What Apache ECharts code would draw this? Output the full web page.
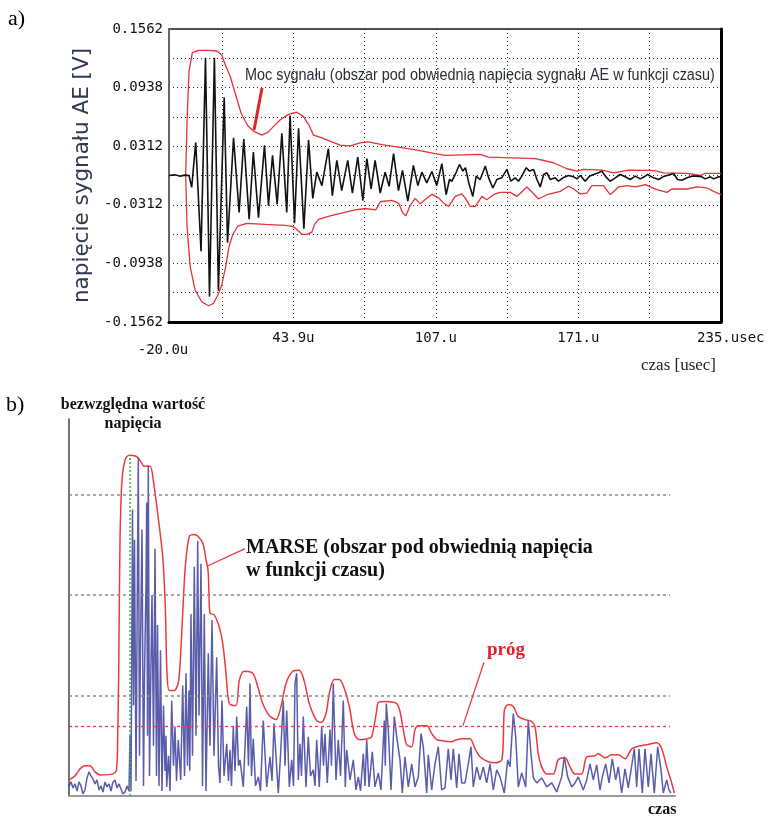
<!DOCTYPE html>
<html>
<head>
<meta charset="utf-8">
<script src="https://cdn.jsdelivr.net/npm/echarts@6/dist/echarts.min.js"></script>
<style>
html, body { margin: 0; padding: 0; background: #fff; }
#chart { width: 768px; height: 818px; }
</style>
</head>
<body>
<div id="chart"></div>
<script>
// ---------- a) AE signal voltage vs time ----------
// time in microseconds, voltage in volts
const sigTime = [-12, -9.3, -7.0, -4.8, -3.0, -1.8, 0.0, 2.4, 4.4, 6.2, 8.4, 10.2, 12.8, 14.3, 17.0, 19.5, 21.6, 24.0, 25.9, 28.2,
  30.9, 32.7, 34.5, 36.6, 38.7, 40.9, 42.4, 44.4, 46.2, 48.6, 50.7, 52.6, 54.4, 56.7, 59.6, 61.4, 63.4, 65.6, 68.3, 70.4,
  72.8, 75.1, 76.9, 78.8, 80.6, 82.9, 85.1, 86.9, 88.9, 91.1, 92.9, 95.3, 97.8, 99.8, 101.6, 103.8, 106.1, 108.3, 110.6,
  112.5, 114.0, 115.1, 116.6, 118.5, 120.0, 121.2, 122.7, 124.5, 126.0, 127.8, 130.1, 131.6, 133.5, 135.3, 137.5, 139.8,
  141.6, 143.5, 145.0, 146.5, 148.5, 150.0, 151.8, 153.3, 154.8, 156.3, 157.8, 159.3, 161.5, 163.0, 165.0, 167.5, 169.8,
  171.3, 172.8, 175.0, 176.9, 178.7, 181.0, 182.5, 184.0, 186.2, 188.5, 190.7, 193.0, 195.2, 197.5, 199.7, 201.5, 203.0,
  205.7, 208.0, 209.9, 211.7, 214.7, 216.5, 218.4, 220.7, 222.9, 225.2, 227.4, 228.9, 231.2, 232.7, 234.9, 236];
const sigVolt = [0, 0.0007, -0.0007, 0.0004, 0, -0.0126, 0.0352, -0.0808, 0.1257, -0.1292, 0.1257, -0.1228, 0.0833, -0.0718,
  0.0402, -0.0395, 0.0388, -0.0467, 0.0251, -0.0449, 0.0323, -0.0323, 0.0215, -0.0305, 0.0449, -0.0395, 0.0639, -0.0510,
  0.0503, -0.0567, 0.0377, -0.0244, 0.0036, -0.0108, 0.0287, -0.0215, 0.0162, -0.0162, 0.0162, -0.0187, 0.0197, -0.0269,
  0.0180, -0.0144, 0.0162, -0.0187, 0.0036, -0.0115, 0.0233, -0.0162, 0.0054, -0.0273, 0.0108, -0.0108, 0.0036, -0.0079,
  0.0043, -0.0108, 0.0126,
  -0.0205, -0.0043, -0.0061, 0.0011, 0.0118, 0.0047, 0.0083, -0.0079, -0.0223, -0.0007, -0.0043, 0.0101, -0.0025, -0.0133,
  -0.0043, -0.0025, 0.0065, -0.0061, -0.0025, -0.0061, -0.0007, 0.0083, 0.0047, 0.0065, -0.0043, -0.0122, 0.0011, 0.0029,
  -0.0043, -0.0025, -0.0061, -0.0025, 0, -0.0014, -0.0036, 0, -0.0061, -0.0007, 0.0011, 0.0029, 0.0047, -0.0007, -0.0061,
  -0.0025, 0.0011, -0.0014, -0.0043, -0.0007, -0.0036, -0.0014, 0.0011, -0.0025, -0.0043, -0.0014, 0, 0.0022, -0.0043,
  -0.0050, -0.0025, -0.0007, -0.0007, -0.0014, -0.0036, -0.0014, -0.0036, -0.0014, -0.0014];

// upper and lower voltage envelope
const envUpTime = [-4.5, -3.9, -3.0, -1.5, 1.2, 5.7, 9.5, 11.7, 13.5, 15.5, 17.7, 20.4, 23.4, 25.9, 29.7, 32.4, 34.9, 37.9,
  41.7, 45.4, 48.4, 51.0, 52.9, 56.7, 61.1, 64.9, 69.4, 73.9, 77.6, 83.6, 91.1, 100.1, 107.6, 112.1, 127.8, 131.6, 152.5,
  160.8, 166.8, 171.3, 174.2, 182.5, 187.7, 194.5, 204.2, 207.2, 210.2, 220.7, 226.7, 228.9, 236];
const envUpVolt = [0, 0.0574, 0.1113, 0.1310, 0.1335, 0.1335, 0.1328, 0.1285, 0.1167, 0.1059, 0.0880, 0.0664, 0.0531,
  0.0474, 0.0431, 0.0460, 0.0521, 0.0592, 0.0653, 0.0675, 0.0628, 0.0531, 0.0431, 0.0402, 0.0359, 0.0323, 0.0316, 0.0348,
  0.0359, 0.0330, 0.0302, 0.0269, 0.0233, 0.0215, 0.0226, 0.0197, 0.0180, 0.0136, 0.0072, 0.0047, 0.0065, 0.0057, 0.0029,
  0.0057, 0.0054, 0.0047, 0.0029, 0.0022, 0, 0.0022, 0.0022];
const envLoTime = [-4.5, -3.9, -2.5, -0.3, 2.7, 5.7, 8.0, 10.2, 11.7, 13.5, 15.0, 16.7, 18.9, 22.9, 31.2, 40.2, 43.9, 45.7,
  47.7, 49.9, 52.2, 53.4, 55.2, 60.4, 66.4, 71.6, 76.1, 80.9, 82.9, 88.1, 91.1, 92.9, 94.4, 96.3, 98.6, 100.8, 103.4, 106.1,
  109.4, 111.3, 113.6, 116.6, 119.6, 121.1, 123.3, 125.6, 128.6, 130.8, 133.8, 136.8, 141.3, 144.3, 148.8, 151.8, 154.0,
  157.8, 163.8, 167.5, 169.8, 172.8, 175.7, 178.0, 183.2, 186.2, 190.0, 193.7, 197.5, 202.0, 207.2, 211.7, 213.9, 220.7,
  225.2, 229.7, 232.7, 236];
const envLoVolt = [0, -0.0539, -0.0969, -0.1221, -0.1346, -0.1389, -0.1364, -0.1264, -0.1167, -0.0969, -0.0754, -0.0628,
  -0.0539, -0.0510, -0.0521, -0.0531, -0.0546, -0.0582, -0.0628, -0.0628, -0.0603, -0.0521, -0.0467, -0.0431, -0.0395,
  -0.0366, -0.0352, -0.0366, -0.0280, -0.0266, -0.0294, -0.0395, -0.0431, -0.0323, -0.0244, -0.0302, -0.0251, -0.0201,
  -0.0244, -0.0294, -0.0330, -0.0223, -0.0197, -0.0241, -0.0330, -0.0330, -0.0223, -0.0258, -0.0205, -0.0180, -0.0180,
  -0.0223, -0.0122, -0.0194, -0.0251, -0.0205, -0.0169, -0.0115, -0.0144, -0.0197, -0.0187, -0.0108, -0.0108, -0.0205,
  -0.0122, -0.0108, -0.0122, -0.0097, -0.0151, -0.0180, -0.0144, -0.0144, -0.0122, -0.0133, -0.0169, -0.0205];

// axis ticks of panel a
const timeGridValues = [11.9, 43.9, 75.9, 107.9, 139.9, 171.9, 203.9];
const timeLabelValues = [-12, 43.9, 107.9, 171.9, 235.9];
const timeLabels = ['-20.0u', '43.9u', '107.u', '171.u', '235.usec'];
const voltLabelValues = [-0.15625, -0.09375, -0.03125, 0.03125, 0.09375, 0.15625];
const voltLabels = ['-0.1562', '-0.0938', '-0.0312', '0.0312', '0.0938', '0.1562'];
// leader of the "Moc sygnału" note: [time, volt] endpoints
const powerLeader = [[29.8, 0.0933], [26.2, 0.0485]];

// ---------- b) absolute voltage (MARSE) ----------
// [time (arbitrary units), |U| (grid units)]
const absVoltage = [[0,0.10],[2,0.14],[4,0.08],[6,0.12],[8,0.05],[10,0.14],[12,0.10],[14,0.02],[16,0.06],[18,0.18],[20,0.24],
  [22,0.20],[24,0.17],[26,0.12],[28,0.16],[30,0.06],[32,0.10],[34,0.04],[36,0.14],[38,0.09],[40,0.12],[42,0.05],[44,0.14],
  [46,0.16],[48,0.08],[50,0.12],[52,0.07],[54,0.02],[56,0.04],[58,0.10],[60,0.05],
  [61,0.60],[62,0.05],[63.5,2.85],[64.5,0.90],[65.5,2.55],[67,0.15],[68.5,2.30],[69.3,3.37],[70.5,0.40],[71.5,1.50],[73,2.65],
  [74.5,0.10],[75.5,1.20],[77,2.10],[77.7,2.92],[78.5,0.60],[79.3,3.29],[80.5,0.20],[81.5,1.00],[83,2.00],[84.5,0.50],[86,2.46],
  [87.5,0.20],[88.5,1.70],[90,0.10],[91.5,1.45],[93,0.05],[94.5,0.90],[96,0.25],[97,0.60],[97.7,0.09],[99.5,0.40],[101,0.05],
  [102.7,0.95],[104.5,0.30],[106,0.69],[107.5,0.15],[109.3,0.56],[111.7,0.16],[113.7,1.10],[115.5,0.20],[117,1.22],[118.5,0.30],
  [120,1.05],[120.8,0.25],[122,1.81],[123.5,0.40],[125.3,2.28],[127,0.60],[128.7,2.54],[130,0.80],[132,2.31],[133.5,0.10],
  [135.3,1.81],[137,0.05],[139.3,1.42],[141,0.50],[143,1.75],[145,0.40],[147.7,1.38],[149.5,0.30],[151,0.13],[153,0.95],[155,0.20],
  [157.7,0.52],[159.5,0.15],[161,0.46],[162.5,0.10],[164.3,0.69],[166,0.25],[167.7,0.79],[169.5,0.30],[171,0.36],[174.3,0.09],
  [177.7,0.89],[179.5,0.30],[181,1.12],[182.5,0.20],[184.3,0.57],[186.5,0.10],[189.3,0.19],[191.5,0.05],[194.3,0.75],[197.7,0.09],
  [201,0.39],[203,0.15],[205,0.72],[209.3,0.03],[211.5,0.40],[214.3,0.95],[216,0.30],[217.7,0.85],[220.3,0.09],[222.7,0.36],
  [224.5,0.10],[226,1.12],[227.7,1.22],[229.3,0.16],[231,0.52],[232.5,0.20],[234.3,0.79],[237,0.09],[239.3,0.59],[241.5,0.20],
  [244.3,0.26],[246,0.10],[247.7,0.56],[250.3,0.09],[252.7,0.69],[254.5,0.30],[256,0.62],[258.3,0.13],[261,0.66],[262.5,0.30],
  [264.3,1.12],[267,0.16],[269.3,0.56],[271.5,0.20],[274.3,0.95],[276.3,0.09],[277.7,0.46],[281,0.16],[284.3,0.36],[287,0.06],
  [289.3,0.19],[291.5,0.05],[294.3,0.42],[296,0.10],
  [297.7,0.56],[300,0.09],[303.3,0.44],[306,0.09],[309.3,0.23],[312,0.06],[315.3,0.75],[316.3,0.30],[317.3,0.92],[319.3,0.66],
  [322,0.06],[325.3,0.79],[327.7,0.59],[331,0.36],[333.3,0.03],[336,0.39],[339.3,0.09],[342.7,0.32],[346,0.09],[349.3,0.19],
  [352,0.62],[354.3,0.49],[357.7,0.03],[359.3,0.41],[362.7,0.06],[366,0.32],[369.3,0.49],[372.7,0.06],[376,0.08],[379.3,0.47],
  [382,0.16],[384.3,0.47],[387.7,0.08],[390,0.42],[392.7,0.13],[396,0.13],[399.3,0.32],[402,0.49],[404.3,0.09],[407.7,0.29],
  [411,0.16],[414.3,0.29],[417.7,0.13],[421,0.32],[424.3,0.06],[427.7,0.26],[431,0.19],[435.3,0.03],[438.7,0.36],[441,0.29],
  [444.3,0.82],[446.7,0.59],[449.3,0.09],[452.7,0.23],[456.7,0.09],[459.3,0.75],[462,0.42],[464.3,0.18],[467.7,0.13],
  [472.7,0.18],[477.7,0.09],[482.7,0.13],[487.7,0.04],[492.7,0.19],[495.3,0.39],[498.7,0.19],[502.7,0.09],[506,0.13],
  [509.3,0.19],[514.3,0.06],[517.7,0.16],[521,0.32],[524.3,0.16],[527.7,0.31],[531,0.06],[533.3,0.19],[536.7,0.32],[540,0.13],
  [543.3,0.37],[546.7,0.16],[549.3,0.29],[552.7,0.03],[556,0.27],[559.3,0.08],[565.3,0.47],[567.7,0.09],[570,0.47],[573.3,0.03],
  [576,0.47],[579.3,0.09],[582,0.42],[585.3,0.03],[588.7,0.49],[592,0.26],[594.3,0.03],[597.7,0.16],[600,0.06],[602,0.03]];

const marseEnvelope = [[0,0.16],[6,0.20],[11,0.27],[16,0.30],[21,0.30],[26,0.24],[31,0.21],[44,0.22],[47.5,0.26],[48.7,0.60],
  [49.7,1.22],[51,2.54],[53,3.14],[56.3,3.35],[60.3,3.39],[67,3.38],[71,3.34],[75.3,3.28],[81,3.28],[84.3,3.14],[88.7,2.81],
  [93.7,2.38],[96.3,1.88],[98,1.22],[100.3,1.05],[105.3,1.05],[109.7,1.15],[113,1.68],[116.3,2.28],[120.3,2.58],[125.3,2.60],
  [130.3,2.57],[134.3,2.50],[137,2.35],[139,2.25],[140,2.0],[141,1.82],[145.3,1.80],[150.3,1.68],[153.7,1.52],[157,1.22],
  [160.3,0.92],[167,0.90],[170.3,1.15],[175.3,1.24],[183.7,1.22],[188.7,1.09],[193.7,0.92],[200.3,0.80],[207,0.76],[212,0.89],
  [217,1.12],[223.7,1.24],[230.3,1.25],[235.3,1.14],[240.3,0.92],[247,0.76],[252,0.73],[257,0.82],[260.3,1.02],[265.3,1.16],
  [270.3,1.16],[275.3,1.07],[280.3,0.89],[285.3,0.62],[290.3,0.56],[298.7,0.57],[302.7,0.59],[307.7,0.85],[309.3,0.93],
  [316,0.94],[327.7,0.92],[331,0.84],[334.3,0.66],[337.7,0.51],[342.7,0.49],[346,0.66],[349.3,0.70],[357.7,0.70],[362.7,0.62],
  [367.7,0.56],[372.7,0.55],[382.7,0.54],[387.7,0.56],[394.3,0.57],[401,0.57],[406,0.47],[411,0.39],[419.3,0.34],[426,0.33],
  [432.7,0.36],[434.3,0.56],[435.3,0.85],[439.3,0.91],[444.3,0.89],[449.3,0.79],[456,0.76],[462.7,0.74],[466,0.69],[469.3,0.42],
  [472.7,0.29],[477.7,0.22],[484.3,0.22],[489.3,0.36],[496,0.38],[501,0.29],[506,0.22],[512.7,0.22],[517.7,0.39],[526,0.40],
  [529.3,0.42],[536,0.38],[542.7,0.41],[549.3,0.41],[556,0.37],[562.7,0.47],[567.7,0.49],[577.7,0.51],[587.7,0.53],
  [592.7,0.47],[597.7,0.29],[602.7,0.13],[605.3,0.03]];

const bGridLevels = [1, 2, 3];
const bGridEnd = 601;
const thresholdLevel = 0.69;
const triggerTime = 61;
const triggerTop = 3.39;
const marseLeader = [[176, 2.46], [139, 2.29]];
const thresholdLeader = [[415, 1.33], [394, 0.70]];

const zip = (xs, ys) => xs.map((x, i) => [x, ys[i]]);
const pick = (vals, labels, v) => {
  const i = vals.findIndex(t => Math.abs(t - v) < 1e-6);
  return i < 0 ? '' : labels[i];
};

const monoFont = 'DejaVu Sans Mono';
const red = '#e53238';

const chart = echarts.init(document.getElementById('chart'), null, { renderer: 'canvas' });

const guideLines = [];
bGridLevels.forEach(l => guideLines.push([
  { coord: [0, l], lineStyle: { color: '#8a8a8a', type: [3, 3], width: 1.5 } },
  { coord: [bGridEnd, l] }
]));
guideLines.push([
  { coord: [0, thresholdLevel], lineStyle: { color: '#ee3b3b', type: [3, 3], width: 1.3 } },
  { coord: [bGridEnd, thresholdLevel] }
]);
guideLines.push([
  { coord: [triggerTime, 0], lineStyle: { color: '#3cb043', type: [2, 2], width: 1.5 } },
  { coord: [triggerTime, triggerTop] }
]);

chart.setOption({
  animation: false,
  grid: [
    { left: 169, top: 29, width: 552, height: 293, show: true, borderColor: '#555', borderWidth: 2 },
    { left: 69, top: 419, width: 606, height: 377 }
  ],
  xAxis: [
    {
      gridIndex: 0, type: 'value', min: -12, max: 236,
      axisLine: { show: true, onZero: false, lineStyle: { color: '#000', width: 3 } },
      axisTick: { show: false, customValues: timeGridValues },
      splitLine: { show: true, lineStyle: { color: '#333', type: [1, 3], width: 1 } },
      axisLabel: {
        customValues: timeLabelValues,
        margin: 9,
        fontFamily: monoFont, fontSize: 14, color: '#111',
        formatter: v => {
          const s = pick(timeLabelValues, timeLabels, v);
          if (v === timeLabelValues[0]) return '{first|' + s + '}';
          if (v === timeLabelValues[timeLabelValues.length - 1]) return '{last|' + s + '}';
          return s;
        },
        rich: {
          first: { fontFamily: monoFont, fontSize: 14, color: '#111', padding: [12, 12, 0, 0] },
          last: { fontFamily: monoFont, fontSize: 14, color: '#111', padding: [0, 0, 0, 20] }
        }
      }
    },
    {
      gridIndex: 1, type: 'value', min: 0, max: 606,
      axisLine: { show: true, onZero: false, lineStyle: { color: '#999', width: 2 } },
      axisTick: { show: false }, axisLabel: { show: false }, splitLine: { show: false }
    }
  ],
  yAxis: [
    {
      gridIndex: 0, type: 'value', min: -0.15625, max: 0.15625, interval: 0.03125,
      axisLine: { show: true, onZero: false, lineStyle: { color: '#666', width: 2 } },
      axisTick: { show: false },
      splitLine: { show: true, lineStyle: { color: '#333', type: [1, 3], width: 1 } },
      axisLabel: {
        customValues: voltLabelValues, margin: 6,
        fontFamily: monoFont, fontSize: 14, color: '#111',
        formatter: v => pick(voltLabelValues, voltLabels, v)
      },
      name: 'napięcie sygnału AE [V]', nameLocation: 'middle', nameRotate: 90, nameGap: 67,
      nameTextStyle: { fontFamily: 'DejaVu Sans', fontSize: 21.5, color: '#2e3a4e' }
    },
    {
      gridIndex: 0, type: 'value', position: 'right', min: -0.15625, max: 0.15625,
      axisLine: { show: true, onZero: false, lineStyle: { color: '#000', width: 3 } },
      axisTick: { show: false }, axisLabel: { show: false }, splitLine: { show: false }
    },
    {
      gridIndex: 1, type: 'value', min: 0, max: 3.75,
      axisLine: { show: true, onZero: false, lineStyle: { color: '#444', width: 1.5 } },
      axisTick: { show: false }, axisLabel: { show: false }, splitLine: { show: false }
    }
  ],
  series: [
    {
      name: 'obwiednia górna', type: 'line', xAxisIndex: 0, yAxisIndex: 0,
      data: zip(envUpTime, envUpVolt), showSymbol: false, symbol: 'none',
      lineStyle: { color: red, width: 1.3 }, z: 2,
      markLine: {
        silent: true, symbol: 'none', label: { show: false },
        lineStyle: { color: '#e0262c', width: 3, type: 'solid' },
        data: [[{ coord: powerLeader[0] }, { coord: powerLeader[1] }]]
      }
    },
    {
      name: 'obwiednia dolna', type: 'line', xAxisIndex: 0, yAxisIndex: 0,
      data: zip(envLoTime, envLoVolt), showSymbol: false, symbol: 'none',
      lineStyle: { color: red, width: 1.3 }, z: 2
    },
    {
      name: 'sygnał AE', type: 'line', xAxisIndex: 0, yAxisIndex: 0,
      data: zip(sigTime, sigVolt), showSymbol: false, symbol: 'none',
      lineStyle: { color: '#111', width: 1.6 }, z: 3
    },
    {
      name: 'wartość bezwzględna', type: 'line', xAxisIndex: 1, yAxisIndex: 2,
      data: absVoltage, showSymbol: false, symbol: 'none',
      lineStyle: { color: 'rgba(48,50,150,0.8)', width: 1.5 }, z: 3,
      markLine: {
        silent: true, symbol: 'none', label: { show: false },
        data: guideLines
      }
    },
    {
      name: 'MARSE', type: 'line', xAxisIndex: 1, yAxisIndex: 2,
      data: marseEnvelope, showSymbol: false, symbol: 'none', smooth: 0.3,
      lineStyle: { color: '#ea3a3f', width: 1.5 }, z: 4,
      markLine: {
        silent: true, symbol: 'none', label: { show: false },
        lineStyle: { color: '#ea3a3f', width: 1.3, type: 'solid' },
        data: [
          [{ coord: marseLeader[0] }, { coord: marseLeader[1] }],
          [{ coord: thresholdLeader[0] }, { coord: thresholdLeader[1] }]
        ]
      }
    }
  ],
  graphic: [
    { type: 'text', left: 8, top: 8, style: { text: 'a)', font: '22px "Liberation Serif"', fill: '#000' } },
    { type: 'text', left: 6, top: 394, style: { text: 'b)', font: '22px "Liberation Serif"', fill: '#000' } },
    { type: 'text', x: 245, y: 68, scaleX: 0.9, style: {
        text: 'Moc sygnału (obszar pod obwiednią napięcia sygnału AE w funkcji czasu)',
        font: '16px "Liberation Sans", sans-serif', fill: '#2a2d3a', verticalAlign: 'top' } },
    { type: 'text', left: 641, top: 357, style: { text: 'czas [usec]', font: '17px "Liberation Serif"', fill: '#222' } },
    { type: 'text', x: 133, y: 397, style: { text: 'bezwzględna wartość', font: 'bold 16px "Liberation Serif"',
        fill: '#111', align: 'center' } },
    { type: 'text', x: 133, y: 416, style: { text: 'napięcia', font: 'bold 16px "Liberation Serif"',
        fill: '#111', align: 'center' } },
    { type: 'text', left: 246, top: 538, style: { text: 'MARSE (obszar pod obwiednią napięcia',
        font: 'bold 20px "Liberation Serif"', fill: '#111' } },
    { type: 'text', left: 246, top: 561, style: { text: 'w funkcji czasu)',
        font: 'bold 20px "Liberation Serif"', fill: '#111' } },
    { type: 'text', left: 487, top: 641, style: { text: 'próg', font: 'bold 19px "Liberation Serif"', fill: '#e8202a' } },
    { type: 'text', left: 648, top: 802, style: { text: 'czas', font: 'bold 16px "Liberation Serif"', fill: '#111' } }
  ]
});
</script>
</body>
</html>
